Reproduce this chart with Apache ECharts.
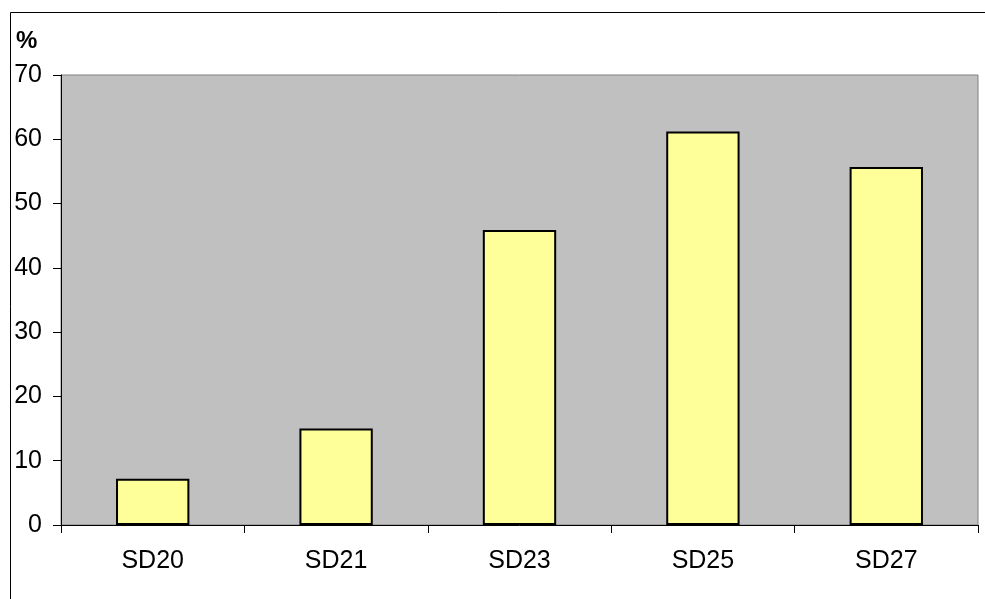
<!DOCTYPE html>
<html>
<head>
<meta charset="utf-8">
<script src="https://cdn.jsdelivr.net/npm/echarts@6/dist/echarts.min.js"></script>
<style>
html,body{margin:0;padding:0;background:#fff;}
#chart{width:985px;height:599px;}
</style>
</head>
<body>
<div id="chart"></div>
<script>
var categories = ['SD20', 'SD21', 'SD23', 'SD25', 'SD27'];
var values = [7.2, 15.0, 45.9, 61.2, 55.7];
var yTicks = [0, 10, 20, 30, 40, 50, 60, 70];
var unitLabel = '%';

var FONT = '"Liberation Sans", Arial, sans-serif';
var chart = echarts.init(document.getElementById('chart'), null, {renderer: 'canvas'});
chart.setOption({
  animation: false,
  backgroundColor: '#ffffff',
  textStyle: {fontFamily: FONT},
  graphic: [
    {type: 'rect', z: -10, shape: {x: 10.5, y: 12.5, width: 1200, height: 1200}, style: {fill: 'none', stroke: '#000', lineWidth: 1}},
    {type: 'text', left: 16, top: 29, style: {text: unitLabel, font: 'bold 24px ' + FONT, fill: '#000'}}
  ],
  grid: {
    left: 61, top: 75, right: 7, bottom: 74,
    show: true, backgroundColor: '#C0C0C0', borderColor: '#808080', borderWidth: 1,
    containLabel: false
  },
  xAxis: {
    type: 'category',
    data: categories,
    axisLine: {show: true, lineStyle: {color: '#000', width: 1}},
    axisTick: {show: true, length: 8, inside: false, alignWithLabel: false, lineStyle: {color: '#000'}},
    axisLabel: {color: '#000', fontSize: 25, fontFamily: FONT, margin: 24}
  },
  yAxis: {
    type: 'value',
    min: yTicks[0], max: yTicks[yTicks.length - 1], interval: 10,
    axisLine: {show: true, lineStyle: {color: '#000', width: 1}},
    axisTick: {show: true, length: 8, lineStyle: {color: '#000'}},
    splitLine: {show: false},
    axisLabel: {color: '#000', fontSize: 25, fontFamily: FONT, margin: 19}
  },
  series: [{
    type: 'bar',
    data: values,
    barWidth: '40%',
    itemStyle: {color: '#FFFF99', borderColor: '#000', borderWidth: 2}
  }]
});
</script>
</body>
</html>
